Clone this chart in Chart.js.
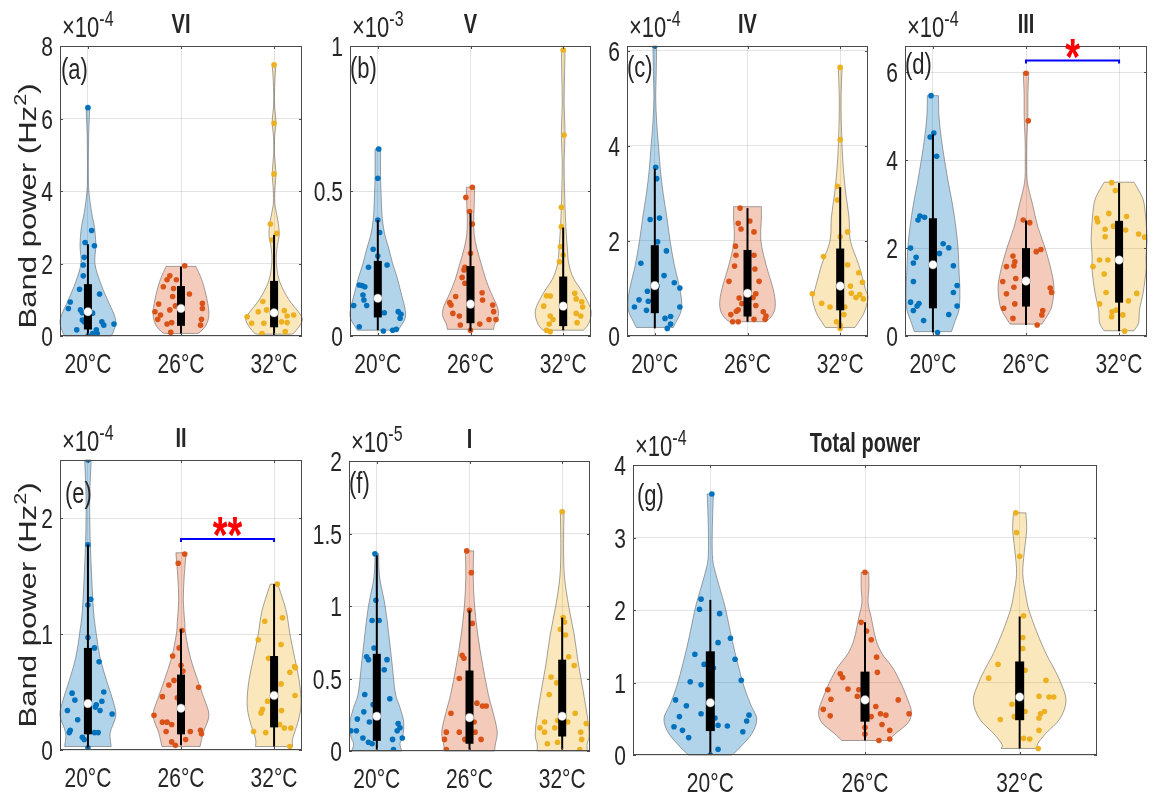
<!DOCTYPE html>
<html>
<head>
<meta charset="utf-8">
<script src="https://cdn.jsdelivr.net/npm/chart.js"></script>
<style>
  body { margin: 0; background: #fff; }
  #wrap { position: relative; width: 1152px; height: 800px; }
  #wrap canvas { position: absolute; left: 0; top: 0; }
</style>
</head>
<body>
<div id="wrap"></div>
<script>
// ---- data ----
const temps = ['20°C', '26°C', '32°C'];
const bandTitles = ['VI', 'V', 'IV', 'III', 'II', 'I', 'Total power'];
const panelTags = ['(a)', '(b)', '(c)', '(d)', '(e)', '(f)', '(g)'];
const expoText = ['-4', '-3', '-4', '-4', '-4', '-5', '-4'];
const yMaxVals = [8, 1, 6.1, 6.6, 2.5, 2, 4];
const yTickVals = [[0, 2, 4, 6, 8], [0, 0.5, 1], [0, 2, 4, 6], [0, 2, 4, 6], [0, 1, 2], [0, 0.5, 1, 1.5, 2], [0, 1, 2, 3, 4]];
// panel index, from group, to group, level, stars
const sigBars = [[3, 2, 3, 6.27, '*'], [4, 2, 3, 1.82, '**']];

// scatter points: value (y) and horizontal jitter (x offset from the group centre)
const pA1y = [6.30, 2.91, 2.58, 2.49, 2.17, 1.96, 1.66, 1.29, 1.16, 0.94, 0.76, 0.72, 0.64, 0.63, 0.44, 0.39, 0.39, 0.33, 0.30, 0.30, 0.17, 0.17, 0.07, 0.07, 0.0];
const pA1x = [0, 0.04, -0.03, 0.07, -0.04, -0.05, -0.05, -0.09, 0.125, -0.19, -0.21, -0.08, -0.06, 0.05, -0.06, -0.04, 0.15, 0.28, 0.17, -0.01, -0.12, 0.09, 0.10, 0.05, 0];
const pA2y = [1.94, 1.66, 1.55, 1.55, 1.36, 1.31, 1.16, 1.09, 0.90, 0.88, 0.83, 0.76, 0.72, 0.67, 0.58, 0.46, 0.46, 0.37, 0.33, 0.30, 0.10];
const pA2x = [0.04, -0.12, -0.15, -0.05, -0.19, -0.08, 0.09, -0.09, 0.23, -0.24, -0.06, 0.23, -0.12, -0.28, -0.22, -0.25, 0.22, -0.10, -0.15, 0.21, -0.11];
const pA3y = [7.48, 5.87, 4.47, 3.09, 2.83, 2.65, 0.95, 0.72, 0.70, 0.67, 0.58, 0.55, 0.53, 0.39, 0.37, 0.35, 0.35, 0.12, 0.07];
const pA3x = [0, 0, 0, -0.04, 0.03, -0.02, -0.12, -0.08, 0.11, -0.17, 0.21, 0.14, -0.29, 0.08, 0.14, -0.24, -0.11, 0.12, -0.13];

const pB1y = [0.645, 0.544, 0.40, 0.357, 0.299, 0.276, 0.245, 0.237, 0.174, 0.176, 0.17, 0.141, 0.105, 0.105, 0.124, 0.084, 0.075, 0.08, 0.061, 0.023, 0.017, 0.032, 0.02];
const pB1x = [0.01, 0, 0, 0.02, -0.05, 0, 0.1, -0.1, -0.17, -0.2, -0.14, -0.16, -0.26, -0.12, -0.15, 0.22, 0.25, 0.07, 0.24, 0.2, 0.06, -0.2, 0.16];
const pB2y = [0.513, 0.478, 0.429, 0.386, 0.285, 0.237, 0.228, 0.202, 0.182, 0.149, 0.136, 0.115, 0.107, 0.124, 0.107, 0.084, 0.078, 0.069, 0.057, 0.057, 0.041, 0.038, 0.02];
const pB2x = [0.02, -0.05, -0.01, 0.02, 0, -0.06, -0.07, -0.09, -0.06, 0.125, -0.16, -0.225, -0.21, 0.13, 0.24, 0.25, -0.19, -0.12, 0.2, 0.275, 0.1, -0.11, 0];
const pB3y = [0.986, 0.693, 0.444, 0.377, 0.308, 0.279, 0.256, 0.139, 0.138, 0.147, 0.128, 0.118, 0.103, 0.10, 0.078, 0.069, 0.069, 0.046, 0.057, 0.041, 0.02, 0.015];
const pB3x = [0, 0.01, -0.02, -0.02, -0.03, 0, -0.04, -0.18, -0.14, 0.125, 0.14, 0.2, -0.21, 0.21, 0.14, -0.14, 0.19, 0.15, -0.11, -0.15, -0.18, -0.14];

const pC1y = [6.1, 3.55, 3.31, 2.45, 2.48, 1.98, 1.79, 1.53, 1.27, 1.12, 1.01, 1.05, 0.94, 0.76, 0.73, 0.61, 0.61, 0.54, 0.37, 0.41, 0.25, 0.16];
const pC1x = [0, 0.01, 0.02, -0.05, 0.05, 0.03, 0.125, -0.15, 0.1, 0.21, 0.27, 0.025, -0.08, -0.17, -0.07, -0.22, 0.27, -0.09, 0.11, 0.17, 0.17, 0.135];
const pC2y = [2.69, 2.42, 2.37, 2.25, 2.19, 1.89, 1.70, 1.70, 1.47, 1.41, 1.15, 1.15, 0.89, 0.81, 0.80, 0.68, 0.55, 0.52, 0.64, 0.51, 0.45, 0.42, 0.35, 0.30, 0.30, 0.35];
const pC2x = [-0.08, 0.025, -0.1, -0.07, 0.07, -0.13, -0.125, 0.07, -0.14, 0.08, -0.2, 0.125, 0.09, 0.06, -0.09, -0.06, -0.1, -0.12, 0.09, 0.17, -0.18, 0.2, 0.19, -0.16, -0.1, 0.07];
const pC3y = [5.65, 4.13, 3.15, 2.86, 2.19, 2.09, 1.67, 1.50, 1.33, 1.05, 1.13, 0.89, 0.90, 0.87, 0.81, 0.78, 0.69, 0.61, 0.61, 0.45, 0.30, 0.23, 0.16];
const pC3x = [0, 0, -0.03, -0.03, 0.08, 0, -0.18, 0.08, 0.2, 0.11, 0.24, -0.3, 0.12, 0.21, 0.17, 0.25, -0.2, -0.11, 0.05, 0.04, -0.04, 0, 0];

const pD1y = [5.47, 4.62, 4.53, 4.09, 2.73, 2.70, 2.64, 2.0, 2.1, 2.01, 1.88, 1.79, 1.6, 1.66, 1.24, 1.15, 0.99, 0.77, 0.74, 0.68, 0.58, 0.68, 0.35, 0.49, 0.08];
const pD1x = [-0.02, 0.01, -0.03, 0.04, -0.14, -0.09, -0.16, -0.24, 0.11, 0.17, 0.07, -0.18, 0.22, -0.21, -0.21, 0.26, 0.22, -0.24, -0.15, -0.17, -0.21, 0.26, -0.1, 0.17, 0.05];
const pD2y = [5.98, 4.9, 2.64, 2.58, 1.97, 1.92, 1.82, 1.69, 1.6, 1.58, 1.24, 1.31, 1.11, 1.09, 0.99, 0.96, 0.73, 0.63, 0.58, 0.48, 0.40, 0.25];
const pD2x = [0, 0.025, -0.03, 0.04, 0.16, 0.11, -0.14, -0.12, -0.13, -0.21, -0.25, -0.11, -0.13, 0.26, 0.275, -0.21, -0.12, -0.24, 0.18, 0.17, -0.14, 0.12];
const pD3y = [3.49, 3.31, 2.68, 2.79, 2.72, 2.6, 2.5, 2.43, 2.41, 2.26, 2.32, 2.25, 1.73, 1.73, 1.58, 1.41, 0.99, 0.97, 0.8, 0.73, 0.55, 0.59, 0.44, 0.48, 0.11];
const pD3x = [-0.08, -0.04, -0.24, -0.11, 0.08, -0.23, -0.06, -0.15, 0.07, -0.15, 0.21, 0.275, -0.12, -0.21, -0.28, -0.16, -0.14, 0.19, 0.1, -0.21, -0.075, -0.03, -0.08, 0.04, 0.06];

const pE1y = [2.5, 1.77, 1.3, 1.25, 0.97, 0.88, 0.76, 0.49, 0.5, 0.43, 0.42, 0.39, 0.37, 0.34, 0.31, 0.34, 0.26, 0.17, 0.15, 0.15, 0.15, 0.11, 0.09, 0.02];
const pE1x = [0, 0, 0.03, 0, 0, 0.07, 0.12, -0.17, 0.17, -0.14, 0.15, 0.09, 0.08, -0.22, 0.26, 0.13, -0.11, -0.19, -0.2, 0.07, 0.11, -0.06, -0.04, 0];
const pE2y = [1.69, 1.61, 1.03, 0.88, 0.81, 0.73, 0.68, 0.6, 0.56, 0.54, 0.46, 0.45, 0.3, 0.24, 0.24, 0.22, 0.16, 0.16, 0.17, 0.14, 0.09, 0.07, 0.04];
const pE2x = [0.04, -0.03, 0.01, -0.02, -0.09, 0, 0.02, -0.075, -0.13, 0.19, -0.2, -0.04, -0.29, -0.2, -0.15, -0.1, -0.16, 0.1, 0.21, 0.22, 0.05, -0.1, -0.06];
const pE3y = [1.43, 1.11, 1.14, 0.95, 0.91, 0.79, 0.72, 0.71, 0.67, 0.57, 0.47, 0.42, 0.35, 0.32, 0.34, 0.22, 0.15, 0.16, 0.19, 0.19, 0.03];
const pE3x = [0.035, -0.1, 0.09, -0.17, 0.075, -0.06, 0.22, 0.23, 0.17, 0.075, 0.225, -0.07, -0.125, -0.14, 0.08, 0.06, -0.09, -0.22, 0.11, 0.18, 0.17];

const pF1y = [1.36, 1.04, 0.9, 0.9, 0.71, 0.65, 0.63, 0.63, 0.56, 0.39, 0.36, 0.32, 0.27, 0.22, 0.2, 0.19, 0.14, 0.14, 0.16, 0.14, 0.09, 0.09, 0.06, 0.05, 0.08, 0.01];
const pF1x = [-0.02, -0.01, -0.05, 0.025, -0.03, -0.11, -0.09, 0.11, 0.08, -0.13, 0.14, -0.04, -0.14, -0.21, -0.08, 0.23, -0.28, -0.22, 0.25, 0.22, -0.15, 0.275, -0.09, -0.05, 0.17, 0.18];
const pF2y = [1.38, 1.23, 0.97, 0.88, 0.66, 0.64, 0.5, 0.26, 0.33, 0.31, 0.31, 0.2, 0.13, 0.13, 0.13, 0.08, 0.08, 0.08, 0.01];
const pF2x = [-0.03, 0.02, 0, 0.03, -0.08, -0.06, -0.11, -0.2, 0.08, 0.14, 0.18, 0.05, -0.11, -0.25, 0.06, -0.05, 0.125, -0.27, -0.25];
const pF3y = [1.65, 0.92, 0.89, 0.84, 0.8, 0.65, 0.59, 0.51, 0.47, 0.39, 0.26, 0.21, 0.2, 0.2, 0.19, 0.16, 0.13, 0.16, 0.13, 0.08, 0.06, 0.05, 0.01];
const pF3x = [0, 0.01, 0.025, -0.02, 0.035, 0.07, 0.13, -0.12, -0.06, -0.14, 0.14, -0.05, -0.19, 0.06, 0.26, -0.24, -0.19, -0.08, 0.2, 0.21, -0.05, -0.16, 0.19];

const pG1y = [3.6, 2.15, 2.01, 1.95, 1.61, 1.55, 1.39, 1.32, 1.25, 1.2, 1.03, 1.01, 0.97, 0.76, 0.68, 0.57, 0.53, 0.55, 0.47, 0.51, 0.39, 0.34, 0.41, 0.4, 0.24, 0.32, 0.08, 0.0];
const pG1x = [0.01, -0.06, -0.07, 0.06, 0.13, 0.05, -0.1, 0.16, -0.04, 0.02, 0.2, -0.13, -0.06, -0.225, -0.155, -0.06, -0.2, 0.25, 0.235, 0.03, -0.235, -0.18, 0.05, 0.11, -0.14, 0.21, 0.05, 0];
const pG2y = [2.52, 1.83, 1.71, 1.59, 1.35, 1.14, 1.12, 1.07, 0.9, 0.91, 0.9, 0.81, 0.77, 0.76, 0.67, 0.63, 0.57, 0.55, 0.57, 0.54, 0.53, 0.42, 0.34, 0.38, 0.29, 0.2, 0.22];
const pG2x = [0, -0.025, 0.01, 0.04, 0.075, 0.08, -0.16, -0.145, -0.24, -0.11, -0.04, -0.05, -0.22, 0.215, 0.07, -0.27, 0.1, 0.135, 0.285, -0.225, 0.04, 0.11, 0.16, 0, 0, 0.09, 0.16];
const pG3y = [3.34, 3.07, 2.74, 1.92, 1.62, 1.47, 1.25, 1.17, 1.06, 1.03, 0.81, 0.8, 0.8, 0.7, 0.6, 0.6, 0.57, 0.53, 0.51, 0.49, 0.34, 0.23, 0.22, 0.09];
const pG3x = [-0.025, -0.02, 0, 0.025, 0.02, 0.02, -0.14, 0.035, -0.2, 0.17, 0.125, 0.19, 0.22, -0.05, 0.035, 0.16, 0.135, -0.035, 0.125, -0.125, 0.125, 0.025, 0.065, 0.12];

// violin outlines: levels (y) and half widths (x units)
const vA1y = [0, 0.1, 0.35, 0.6, 1.0, 1.5, 2.0, 2.5, 3.0, 3.4, 4.0, 4.6, 5.5, 6.0, 6.3];
const vA1w = [0.25, 0.27, 0.3, 0.28, 0.21, 0.13, 0.075, 0.085, 0.07, 0.04, 0.01, 0.005, 0.008, 0.015, 0.02];
const vA2y = [0.07, 0.1, 0.3, 0.6, 1.0, 1.5, 1.92];
const vA2w = [0.16, 0.2, 0.27, 0.3, 0.28, 0.23, 0.16];
const vA3y = [0.05, 0.1, 0.4, 0.6, 1.0, 1.5, 2.0, 2.4, 2.8, 3.2, 3.6, 4.0, 4.5, 5.0, 5.5, 5.9, 6.4, 7.0, 7.48];
const vA3w = [0.18, 0.22, 0.3, 0.28, 0.16, 0.06, 0.025, 0.03, 0.055, 0.04, 0.01, 0.008, 0.02, 0.005, 0.006, 0.02, 0.005, 0.008, 0.02];
const vB1y = [0.02, 0.03, 0.05, 0.07, 0.1, 0.15, 0.2, 0.25, 0.3, 0.35, 0.4, 0.45, 0.55, 0.645];
const vB1w = [0.22, 0.24, 0.28, 0.3, 0.29, 0.25, 0.21, 0.16, 0.12, 0.075, 0.05, 0.04, 0.03, 0.03];
const vB2y = [0.023, 0.04, 0.07, 0.1, 0.15, 0.2, 0.25, 0.3, 0.35, 0.4, 0.45, 0.513];
const vB2w = [0.25, 0.26, 0.3, 0.29, 0.22, 0.16, 0.115, 0.07, 0.04, 0.035, 0.04, 0.045];
const vB3y = [0.02, 0.04, 0.07, 0.1, 0.15, 0.2, 0.25, 0.3, 0.4, 0.5, 0.6, 0.7, 0.8, 0.9, 0.99];
const vB3w = [0.22, 0.27, 0.3, 0.29, 0.21, 0.11, 0.06, 0.045, 0.025, 0.015, 0.01, 0.02, 0.01, 0.015, 0.02];
const vC1y = [0.18, 0.3, 0.5, 0.7, 1.0, 1.5, 2.0, 2.5, 3.0, 3.5, 4.0, 4.5, 5.0, 5.5, 6.1];
const vC1w = [0.2, 0.23, 0.28, 0.29, 0.27, 0.21, 0.165, 0.13, 0.09, 0.06, 0.04, 0.02, 0.01, 0.015, 0.02];
const vC2y = [0.3, 0.35, 0.5, 0.7, 1.0, 1.5, 2.0, 2.5, 2.72];
const vC2w = [0.19, 0.23, 0.285, 0.3, 0.275, 0.2, 0.145, 0.15, 0.15];
const vC3y = [0.18, 0.3, 0.5, 0.8, 1.0, 1.5, 2.0, 2.5, 3.0, 3.5, 4.0, 4.5, 5.0, 5.65];
const vC3w = [0.16, 0.2, 0.26, 0.3, 0.27, 0.2, 0.11, 0.095, 0.06, 0.035, 0.02, 0.012, 0.01, 0.02];
const vD1y = [0.1, 0.35, 0.6, 1.0, 1.5, 2.0, 2.5, 3.0, 3.5, 4.0, 4.5, 5.0, 5.47];
const vD1w = [0.2, 0.24, 0.28, 0.29, 0.28, 0.27, 0.245, 0.21, 0.165, 0.125, 0.09, 0.065, 0.06];
const vD2y = [0.27, 0.5, 0.7, 1.1, 1.5, 2.0, 2.5, 3.0, 3.5, 4.0, 4.5, 5.0, 5.5, 6.0];
const vD2w = [0.17, 0.24, 0.28, 0.3, 0.27, 0.205, 0.125, 0.07, 0.015, 0.008, 0.01, 0.02, 0.02, 0.03];
const vD3y = [0.12, 0.3, 0.6, 1.0, 1.5, 1.8, 2.2, 2.6, 3.0, 3.2, 3.5];
const vD3w = [0.16, 0.21, 0.22, 0.26, 0.29, 0.29, 0.3, 0.29, 0.27, 0.24, 0.16];
const vE1y = [0.03, 0.15, 0.3, 0.45, 0.6, 0.8, 1.0, 1.2, 1.5, 1.8, 2.0, 2.2, 2.5];
const vE1w = [0.25, 0.24, 0.3, 0.26, 0.2, 0.13, 0.09, 0.06, 0.04, 0.025, 0.02, 0.02, 0.035];
const vE2y = [0.03, 0.15, 0.3, 0.45, 0.6, 0.8, 1.0, 1.1, 1.3, 1.5, 1.7];
const vE2w = [0.205, 0.24, 0.3, 0.245, 0.18, 0.1, 0.05, 0.04, 0.025, 0.035, 0.055];
const vE3y = [0.03, 0.1, 0.25, 0.4, 0.6, 0.8, 1.0, 1.2, 1.43];
const vE3w = [0.2, 0.2, 0.26, 0.29, 0.27, 0.22, 0.17, 0.13, 0.04];
const vF1y = [0.0, 0.05, 0.1, 0.2, 0.3, 0.4, 0.6, 0.8, 1.0, 1.2, 1.36];
const vF1w = [0.27, 0.25, 0.28, 0.29, 0.25, 0.2, 0.165, 0.13, 0.09, 0.03, 0.02];
const vF2y = [0, 0.05, 0.12, 0.2, 0.3, 0.4, 0.6, 0.8, 1.0, 1.2, 1.38];
const vF2w = [0.27, 0.28, 0.3, 0.28, 0.24, 0.2, 0.14, 0.09, 0.055, 0.04, 0.045];
const vF3y = [0, 0.05, 0.1, 0.2, 0.4, 0.6, 0.8, 1.0, 1.2, 1.4, 1.66];
const vF3w = [0.27, 0.27, 0.29, 0.28, 0.23, 0.175, 0.13, 0.07, 0.025, 0.015, 0.02];
const vG1y = [0, 0.1, 0.3, 0.5, 0.7, 1.0, 1.5, 2.0, 2.2, 2.5, 2.7, 3.0, 3.3, 3.6];
const vG1w = [0.14, 0.19, 0.27, 0.3, 0.26, 0.21, 0.15, 0.1, 0.075, 0.035, 0.015, 0.012, 0.015, 0.02];
const vG2y = [0.2, 0.3, 0.45, 0.6, 0.8, 1.0, 1.2, 1.4, 1.6, 1.9, 2.1, 2.3, 2.52];
const vG2w = [0.15, 0.2, 0.28, 0.3, 0.27, 0.23, 0.18, 0.11, 0.07, 0.04, 0.02, 0.025, 0.025];
const vG3y = [0.09, 0.15, 0.3, 0.5, 0.75, 1.0, 1.2, 1.4, 1.7, 2.0, 2.2, 2.5, 2.8, 3.1, 3.34];
const vG3w = [0.12, 0.115, 0.17, 0.26, 0.3, 0.265, 0.22, 0.17, 0.11, 0.06, 0.04, 0.02, 0.03, 0.045, 0.04];

// box stats: [whisker low, q1, median, q3, whisker high]
const bxA = [[0.0, 0.18, 0.67, 1.43, 2.53], [0.07, 0.28, 0.76, 1.38, 1.91], [0, 0.24, 0.64, 1.52, 2.79]];
const bxB = [[0.02, 0.064, 0.13, 0.259, 0.40], [0.017, 0.044, 0.11, 0.241, 0.423], [0.02, 0.034, 0.103, 0.205, 0.374]];
const bxC = [[0.16, 0.48, 1.06, 1.91, 3.52], [0.3, 0.41, 0.9, 1.81, 2.69], [0.16, 0.54, 1.05, 1.84, 3.13]];
const bxD = [[0.08, 0.63, 1.62, 2.68, 4.59], [0.25, 0.67, 1.25, 2.0, 2.63], [0.11, 0.76, 1.73, 2.62, 3.48]];
const bxE = [[0.02, 0.135, 0.40, 0.88, 1.77], [0.04, 0.135, 0.36, 0.65, 1.04], [0.03, 0.195, 0.47, 0.81, 1.43]];
const bxF = [[0.01, 0.07, 0.24, 0.67, 1.35], [0.01, 0.05, 0.23, 0.555, 0.97], [0.01, 0.1, 0.24, 0.63, 0.92]];
const bxG = [[0, 0.33, 0.72, 1.43, 2.14], [0.2, 0.46, 0.76, 1.15, 1.83], [0.09, 0.48, 0.8, 1.29, 1.91]];

// ---- layout & style ----
const plotBoxes = [[60, 46, 302, 336], [350, 46, 591, 336], [627, 46, 868, 336], [905, 46, 1147, 336],
                   [60, 460, 302, 750], [349, 461, 590, 751], [633, 465, 1097, 755]];
const xRanges = [[0.7, 3.3], [0.7, 3.3], [0.7, 3.3], [0.7, 3.3], [0.7, 3.3], [0.7, 3.3], [0.5, 3.5]];
const tagPos = [[61, 79], [350, 78], [627, 77], [905, 74], [65, 503], [349, 493], [637, 505]];
const yLabelPanels = { 0: 206, 4: 605 };
const SY = 1.35; // the original lettering is tall and narrow
const FONT = '"Liberation Sans", Arial, Helvetica, sans-serif';
const TXT = '#262626';
const lineCols = ['#0072BD', '#D95319', '#EDB120'];
const fillCols = ['rgba(0,114,189,0.3)', 'rgba(217,83,25,0.3)', 'rgba(237,177,32,0.3)'];

const ptsY = [[pA1y, pA2y, pA3y], [pB1y, pB2y, pB3y], [pC1y, pC2y, pC3y], [pD1y, pD2y, pD3y], [pE1y, pE2y, pE3y], [pF1y, pF2y, pF3y], [pG1y, pG2y, pG3y]];
const ptsX = [[pA1x, pA2x, pA3x], [pB1x, pB2x, pB3x], [pC1x, pC2x, pC3x], [pD1x, pD2x, pD3x], [pE1x, pE2x, pE3x], [pF1x, pF2x, pF3x], [pG1x, pG2x, pG3x]];
const violY = [[vA1y, vA2y, vA3y], [vB1y, vB2y, vB3y], [vC1y, vC2y, vC3y], [vD1y, vD2y, vD3y], [vE1y, vE2y, vE3y], [vF1y, vF2y, vF3y], [vG1y, vG2y, vG3y]];
const violW = [[vA1w, vA2w, vA3w], [vB1w, vB2w, vB3w], [vC1w, vC2w, vC3w], [vD1w, vD2w, vD3w], [vE1w, vE2w, vE3w], [vF1w, vF2w, vF3w], [vG1w, vG2w, vG3w]];
const boxStats = [bxA, bxB, bxC, bxD, bxE, bxF, bxG];

// stretched text helper
function sText(ctx, str, x, y, px, opts) {
  opts = opts || {};
  ctx.save();
  ctx.translate(x, y);
  ctx.scale(1, SY);
  ctx.font = (opts.bold ? 'bold ' : '') + px + 'px ' + FONT;
  ctx.textAlign = opts.align || 'left';
  ctx.textBaseline = 'alphabetic';
  ctx.fillStyle = opts.color || TXT;
  ctx.fillText(str, 0, 0);
  ctx.restore();
}
function textW(ctx, str, px, bold) {
  ctx.save();
  ctx.font = (bold ? 'bold ' : '') + px + 'px ' + FONT;
  const w = ctx.measureText(str).width;
  ctx.restore();
  return w;
}

// catmull-rom through pixel points
function spline(ctx, p) {
  for (let i = 0; i < p.length - 1; i++) {
    const p0 = p[Math.max(i - 1, 0)], p1 = p[i], p2 = p[i + 1], p3 = p[Math.min(i + 2, p.length - 1)];
    ctx.bezierCurveTo(p1[0] + (p2[0] - p0[0]) / 6, p1[1] + (p2[1] - p0[1]) / 6,
                      p2[0] - (p3[0] - p1[0]) / 6, p2[1] - (p3[1] - p1[1]) / 6, p2[0], p2[1]);
  }
}

const violinPlugin = {
  id: 'violins',
  beforeDatasetsDraw(chart) {
    const p = chart.options.panel, ctx = chart.ctx;
    const xs = chart.scales.x, ys = chart.scales.y;
    ctx.save();
    for (let k = 0; k < 3; k++) {
      const vy = violY[p][k], vw = violW[p][k], c = k + 1;
      const left = vy.map((v, i) => [xs.getPixelForValue(c - vw[i]), ys.getPixelForValue(v)]);
      const right = vy.map((v, i) => [xs.getPixelForValue(c + vw[i]), ys.getPixelForValue(v)]).reverse();
      ctx.beginPath();
      ctx.moveTo(left[0][0], left[0][1]);
      spline(ctx, left);
      ctx.lineTo(right[0][0], right[0][1]);
      spline(ctx, right);
      ctx.closePath();
      ctx.fillStyle = fillCols[k];
      ctx.fill();
      ctx.strokeStyle = 'rgba(90,90,90,0.55)';
      ctx.lineWidth = 1;
      ctx.stroke();
    }
    ctx.restore();
  },
  afterDatasetsDraw(chart) {
    const p = chart.options.panel, ctx = chart.ctx;
    const xs = chart.scales.x, ys = chart.scales.y;
    const bw = p === 6 ? 9 : 8;
    ctx.save();
    for (let k = 0; k < 3; k++) {
      const b = boxStats[p][k], xp = xs.getPixelForValue(k + 1);
      ctx.strokeStyle = '#000';
      ctx.lineWidth = 2;
      ctx.beginPath();
      ctx.moveTo(xp, ys.getPixelForValue(b[0]));
      ctx.lineTo(xp, ys.getPixelForValue(b[4]));
      ctx.stroke();
      ctx.fillStyle = '#000';
      const top = ys.getPixelForValue(b[3]);
      ctx.fillRect(xp - bw / 2, top, bw, ys.getPixelForValue(b[1]) - top);
      ctx.beginPath();
      ctx.arc(xp, ys.getPixelForValue(b[2]), 4.3, 0, Math.PI * 2);
      ctx.fillStyle = '#fff';
      ctx.fill();
      ctx.strokeStyle = 'rgba(128,128,128,0.8)';
      ctx.lineWidth = 0.6;
      ctx.stroke();
    }
    ctx.restore();
  },
  afterDraw(chart) {
    const p = chart.options.panel, ctx = chart.ctx;
    const xs = chart.scales.x, ys = chart.scales.y;
    const a = chart.chartArea;
    ctx.save();
    // frame and inner ticks
    ctx.strokeStyle = '#4a4a4a';
    ctx.lineWidth = 1;
    ctx.strokeRect(a.left + 0.5, a.top + 0.5, a.right - a.left - 1, a.bottom - a.top - 1);
    ctx.beginPath();
    yTickVals[p].forEach(v => {
      const y = Math.round(ys.getPixelForValue(v)) + 0.5;
      ctx.moveTo(a.left, y); ctx.lineTo(a.left + 3, y);
      ctx.moveTo(a.right, y); ctx.lineTo(a.right - 3, y);
    });
    [1, 2, 3].forEach(v => {
      const x = Math.round(xs.getPixelForValue(v)) + 0.5;
      ctx.moveTo(x, a.bottom); ctx.lineTo(x, a.bottom - 3);
      ctx.moveTo(x, a.top); ctx.lineTo(x, a.top + 3);
    });
    ctx.stroke();
    ctx.restore();

    // tick labels
    yTickVals[p].forEach(v => {
      sText(ctx, String(v), a.left - 7, ys.getPixelForValue(v) + 10, 21, { align: 'right' });
    });
    temps.forEach((t, i) => {
      sText(ctx, t, xs.getPixelForValue(i + 1), a.bottom + 37, 21, { align: 'center' });
    });
    // exponent
    const w = textW(ctx, '×10', 22);
    sText(ctx, '×10', a.left + 2, a.top - 9, 22);
    sText(ctx, expoText[p], a.left + 2 + w, a.top - 20, 16);
    // title
    sText(ctx, bandTitles[p], (a.left + a.right) / 2, a.top - 13, 20, { align: 'center', bold: true });
    // panel tag
    sText(ctx, panelTags[p], tagPos[p][0], tagPos[p][1], 22);

    // y axis label
    if (yLabelPanels[p] !== undefined) {
      const cy = yLabelPanels[p];
      const main = 'Band power (Hz';
      const w1 = textW(ctx, main, 23), w2 = textW(ctx, '2', 16), w3 = textW(ctx, ')', 23);
      const start = -(w1 + w2 + w3) / 2;
      ctx.save();
      ctx.translate(36, cy);
      ctx.rotate(-Math.PI / 2);
      ctx.scale(SY, 1);
      ctx.fillStyle = TXT;
      ctx.textBaseline = 'alphabetic';
      ctx.font = '23px ' + FONT;
      ctx.fillText(main, start, 0);
      ctx.fillText(')', start + w1 + w2, 0);
      ctx.font = '16px ' + FONT;
      ctx.fillText('2', start + w1, -10);
      ctx.restore();
    }

    // significance bars
    sigBars.forEach(s => {
      if (s[0] !== p) return;
      const x1 = xs.getPixelForValue(s[1]), x2 = xs.getPixelForValue(s[2]);
      const y = ys.getPixelForValue(s[3]);
      ctx.save();
      ctx.strokeStyle = '#0000FF';
      ctx.lineWidth = 2;
      ctx.beginPath();
      ctx.moveTo(x1, y + 3); ctx.lineTo(x1, y); ctx.lineTo(x2, y); ctx.lineTo(x2, y + 3);
      ctx.stroke();
      ctx.restore();
      sText(ctx, s[4], (x1 + x2) / 2, y - 15 + 0.57 * 38 * SY, 38, { align: 'center', bold: true, color: '#FF0000' });
    });
  }
};

const wrap = document.getElementById('wrap');
plotBoxes.forEach((bx, p) => {
  const cv = document.createElement('canvas');
  cv.width = 1152; cv.height = 800;
  wrap.appendChild(cv);
  const datasets = [0, 1, 2].map(k => ({
    data: ptsY[p][k].map((v, i) => ({ x: k + 1 + ptsX[p][k][i], y: v })),
    backgroundColor: lineCols[k],
    borderColor: lineCols[k],
    borderWidth: 0,
    pointRadius: 2.8,
    pointHoverRadius: 2.8
  }));
  new Chart(cv, {
    type: 'scatter',
    data: { datasets: datasets },
    options: {
      panel: p,
      responsive: false,
      animation: false,
      events: [],
      layout: { padding: { left: bx[0], top: bx[1], right: 1152 - bx[2], bottom: 800 - bx[3] } },
      plugins: { legend: { display: false }, tooltip: { enabled: false }, title: { display: false } },
      scales: {
        x: {
          type: 'linear', min: xRanges[p][0], max: xRanges[p][1],
          afterBuildTicks: s => { s.ticks = [1, 2, 3].map(v => ({ value: v })); },
          afterFit: s => { s.height = 0; },
          ticks: { display: false },
          grid: { color: 'rgba(38,38,38,0.13)', drawTicks: false, lineWidth: 1 },
          border: { display: false }
        },
        y: {
          type: 'linear', min: 0, max: yMaxVals[p],
          afterBuildTicks: s => { s.ticks = yTickVals[p].map(v => ({ value: v })); },
          afterFit: s => { s.width = 0; },
          ticks: { display: false },
          grid: { color: 'rgba(38,38,38,0.13)', drawTicks: false, lineWidth: 1 },
          border: { display: false }
        }
      }
    },
    plugins: [violinPlugin]
  });
});
</script>
</body>
</html>
